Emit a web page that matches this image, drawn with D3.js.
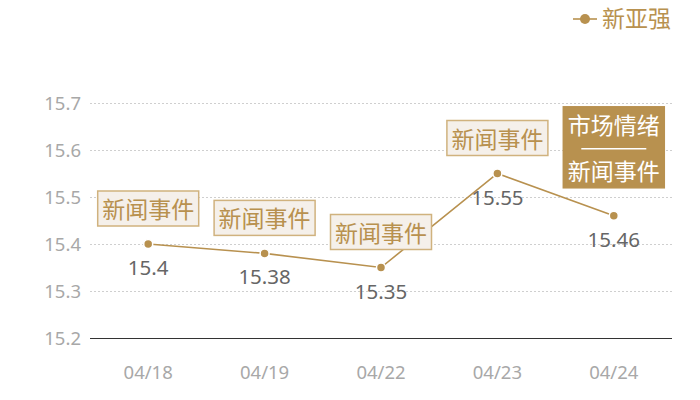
<!DOCTYPE html>
<html>
<head>
<meta charset="utf-8">
<script src="https://cdn.jsdelivr.net/npm/d3@7"></script>
<style>
  body { margin: 0; background: #fff; }
  svg { display: block; font-family: "Noto Sans", "Noto Sans CJK SC", sans-serif; }
</style>
</head>
<body>
<div id="chart"></div>
<script>
// data
var dates = ["04/18", "04/19", "04/22", "04/23", "04/24"];
var prices = [15.4, 15.38, 15.35, 15.55, 15.46];
var tags = [["新闻事件"], ["新闻事件"], ["新闻事件"], ["新闻事件"], ["市场情绪", "——", "新闻事件"]];
var yTicks = [15.2, 15.3, 15.4, 15.5, 15.6, 15.7];
var seriesName = "新亚强";

var gold = "#b8914f";

var svg = d3.select("#chart")
  .append("svg")
  .attr("width", 700)
  .attr("height", 400);

var marginLeft = 90, marginRight = 28;

var x = d3.scaleBand()
  .domain(dates)
  .range([marginLeft, 700 - marginRight]);

var y = d3.scaleLinear()
  .domain([15.2, 15.7])
  .range([338, 103]);

// grid lines
svg.append("g")
  .selectAll("line")
  .data(yTicks.slice(1))
  .enter()
  .append("line")
  .attr("x1", marginLeft)
  .attr("x2", 700 - marginRight)
  .attr("y1", function(d) { return Math.round(y(d)) + 0.5; })
  .attr("y2", function(d) { return Math.round(y(d)) + 0.5; })
  .style("stroke", "#cfcfcf")
  .style("stroke-dasharray", "2,2");

// y axis labels
svg.append("g")
  .selectAll("text")
  .data(yTicks)
  .enter()
  .append("text")
  .attr("x", 81)
  .attr("y", function(d) { return y(d) + 6.5; })
  .attr("text-anchor", "end")
  .style("fill", "#a8a8a8")
  .style("font-size", "18.5px")
  .text(function(d) { return d.toFixed(1); });

// bottom axis line
svg.append("line")
  .attr("x1", marginLeft)
  .attr("x2", 700 - marginRight)
  .attr("y1", Math.round(y(15.2)) + 0.5)
  .attr("y2", Math.round(y(15.2)) + 0.5)
  .style("stroke", "#333")
  .style("stroke-width", 1);

// x labels
svg.append("g")
  .selectAll("text")
  .data(dates)
  .enter()
  .append("text")
  .attr("x", function(d) { return x(d) + x.bandwidth() / 2; })
  .attr("y", 379)
  .attr("text-anchor", "middle")
  .style("fill", "#a8a8a8")
  .style("font-size", "18.5px")
  .text(function(d) { return d; });

var cx = function(d, i) { return x(dates[i]) + x.bandwidth() / 2; };

// the line
var line = d3.line()
  .x(function(d, i) { return cx(d, i); })
  .y(function(d) { return y(d); });

svg.append("path")
  .datum(prices)
  .attr("d", line)
  .style("fill", "none")
  .style("stroke", gold)
  .style("stroke-width", 1.6);

// points
svg.append("g")
  .selectAll("circle")
  .data(prices)
  .enter()
  .append("circle")
  .attr("cx", cx)
  .attr("cy", function(d) { return y(d); })
  .attr("r", 4.5)
  .style("fill", gold)
  .style("stroke", "#fff")
  .style("stroke-width", 1.5);

// value labels under points
svg.append("g")
  .selectAll("text")
  .data(prices)
  .enter()
  .append("text")
  .attr("x", cx)
  .attr("y", function(d) { return y(d) + 31; })
  .attr("text-anchor", "middle")
  .style("fill", "#666")
  .style("font-size", "20.5px")
  .text(function(d) { return String(d); });

// tag boxes above points
prices.forEach(function(p, i) {
  var lines = tags[i];
  var last = lines.length > 1;
  var boxW = 101, boxH = lines.length === 1 ? 35 : 81;
  var bx = cx(p, i) - boxW / 2;
  var by = y(p) - 18 - boxH;
  if (last) by = y(p) - 28 - boxH;

  var g = svg.append("g");
  g.append("rect")
    .attr("x", bx)
    .attr("y", by)
    .attr("width", boxW)
    .attr("height", boxH)
    .style("fill", last ? gold : "#f5f0ea")
    .style("stroke", last ? gold : "#d0b27e")
    .style("stroke-width", 1.5);

  if (last) {
    g.append("text")
      .attr("x", bx + boxW / 2)
      .attr("y", by + 27)
      .attr("text-anchor", "middle")
      .style("fill", "#fff")
      .style("font-size", "23px")
      .text(lines[0]);
    g.append("line")
      .attr("x1", bx + 18)
      .attr("x2", bx + boxW - 18)
      .attr("y1", by + 42)
      .attr("y2", by + 42)
      .style("stroke", "#fff")
      .style("stroke-width", 1.5);
    g.append("text")
      .attr("x", bx + boxW / 2)
      .attr("y", by + 73)
      .attr("text-anchor", "middle")
      .style("fill", "#fff")
      .style("font-size", "23px")
      .text(lines[2]);
  } else {
    g.append("text")
      .attr("x", bx + boxW / 2)
      .attr("y", by + 27)
      .attr("text-anchor", "middle")
      .style("fill", gold)
      .style("font-size", "23px")
      .text(lines[0]);
  }
});

// legend
var legend = svg.append("g").attr("transform", "translate(573,19)");
legend.append("line")
  .attr("x1", 0).attr("x2", 24)
  .style("stroke", gold)
  .style("stroke-width", 1.6);
legend.append("circle")
  .attr("cx", 12).attr("r", 5)
  .style("fill", gold);
legend.append("text")
  .attr("x", 29)
  .attr("y", 8)
  .style("fill", gold)
  .style("font-size", "23px")
  .text(seriesName);
</script>
</body>
</html>
